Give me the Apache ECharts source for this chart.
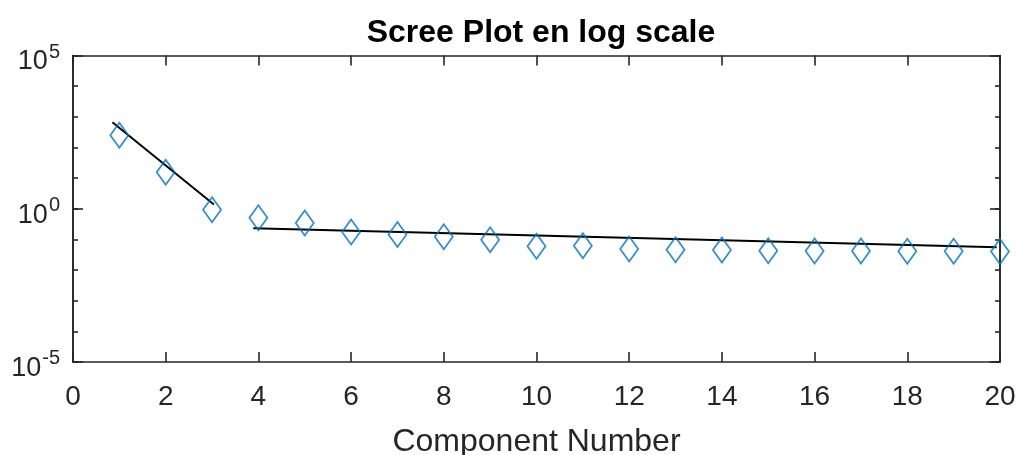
<!DOCTYPE html>
<html>
<head>
<meta charset="utf-8">
<script src="https://cdn.jsdelivr.net/npm/echarts@6/dist/echarts.min.js"></script>
<style>
  html, body { margin: 0; padding: 0; background: #ffffff; }
  #chart { width: 1019px; height: 455px; }
</style>
</head>
<body>
<div id="chart"></div>
<script>
// Component index and eigenvalue (variance explained) per component
const components = [1, 2, 3, 4, 5, 6, 7, 8, 9, 10, 11, 12, 13, 14, 15, 16, 17, 18, 19, 20];
const eigenvalues = [248, 15.4, 0.93, 0.51, 0.34, 0.173, 0.145, 0.122, 0.097, 0.060,
                     0.062, 0.049, 0.046, 0.045, 0.043, 0.042, 0.042, 0.041, 0.041, 0.040];

// Straight-line fits (in log space) over the steep part and the flat tail
const fitSteepX = [0.85, 3.04];
const fitSteepY = [661, 1.38];
const fitTailX = [3.89, 19.93];
const fitTailY = [0.230, 0.0552];

const xTicks = { min: 0, max: 20, step: 2 };
const yDecades = { min: 1e-5, max: 1e5 };

const FONT = '"Liberation Sans", Arial, Helvetica, sans-serif';
const INK = '#262626';
const MARKER = '#0072BD';

const pairs = (xs, ys) => xs.map((x, i) => [x, ys[i]]);

const chart = echarts.init(document.getElementById('chart'), null, { renderer: 'canvas' });

const gridBox = { left: 73, right: 19, top: 55.5, bottom: 93 };

// Power-of-ten labels with a raised exponent, only on every fifth decade
function expLabel(v) {
  const e = Math.round(Math.log10(v));
  if (e % 5 !== 0) return '';
  return '{b|10}{s|' + e + '}';
}

const yLog = (position, showLabel, tickLen, interval) => ({
  type: 'log',
  logBase: 10,
  position: position,
  min: yDecades.min,
  max: yDecades.max,
  interval: interval,
  axisLine: { show: true, onZero: false, lineStyle: { color: INK, width: 1.6 } },
  axisTick: { show: true, inside: true, length: tickLen, lineStyle: { color: INK, width: 1.6 } },
  splitLine: { show: false },
  axisLabel: showLabel ? {
    show: true,
    margin: 13,
    formatter: expLabel,
    padding: [13, 0, 0, 0],
    rich: {
      b: { fontFamily: FONT, fontSize: 27, color: INK, lineHeight: 27 },
      s: { fontFamily: FONT, fontSize: 20, color: INK, lineHeight: 20, padding: [0, 0, 20, 1] }
    }
  } : { show: false }
});

const xLin = (position, showLabel) => ({
  type: 'value',
  position: position,
  min: xTicks.min,
  max: xTicks.max,
  interval: xTicks.step,
  name: showLabel ? 'Component Number' : '',
  nameLocation: 'middle',
  nameGap: 64,
  nameTextStyle: { fontFamily: FONT, fontSize: 32, color: INK },
  axisLine: { show: true, onZero: false, lineStyle: { color: INK, width: 1.6 } },
  axisTick: { show: true, inside: true, length: 10, lineStyle: { color: INK, width: 1.6 } },
  splitLine: { show: false },
  axisLabel: showLabel ? { show: true, margin: 21, fontFamily: FONT, fontSize: 28, color: INK } : { show: false }
});

const option = {
  backgroundColor: '#ffffff',
  animation: false,
  title: {
    text: 'Scree Plot en log scale',
    left: 536,
    textAlign: 'center',
    top: 12,
    textStyle: { fontFamily: FONT, fontSize: 32, fontWeight: 'bold', color: '#000000' }
  },
  grid: Object.assign({ containLabel: false, outerBoundsMode: 'none' }, gridBox),
  xAxis: [xLin('bottom', true), xLin('top', false)],
  yAxis: [
    yLog('left', true, 10, 5),
    yLog('left', false, 5, 1),
    yLog('right', false, 10, 5),
    yLog('right', false, 5, 1)
  ],
  series: [
    {
      type: 'line',
      xAxisIndex: 0, yAxisIndex: 0,
      data: pairs(fitSteepX, fitSteepY),
      showSymbol: false, symbol: 'none',
      lineStyle: { color: '#000000', width: 2 },
      z: 2
    },
    {
      type: 'line',
      xAxisIndex: 0, yAxisIndex: 0,
      data: pairs(fitTailX, fitTailY),
      showSymbol: false, symbol: 'none',
      lineStyle: { color: '#000000', width: 2 },
      z: 2
    },
    {
      type: 'scatter',
      xAxisIndex: 0, yAxisIndex: 0,
      data: pairs(components, eigenvalues),
      symbol: 'diamond',
      symbolSize: [18, 25],
      itemStyle: { color: 'rgba(0,0,0,0)', borderColor: MARKER, borderWidth: 1.8 },
      z: 3
    }
  ]
};

chart.setOption(option);
</script>
</body>
</html>
